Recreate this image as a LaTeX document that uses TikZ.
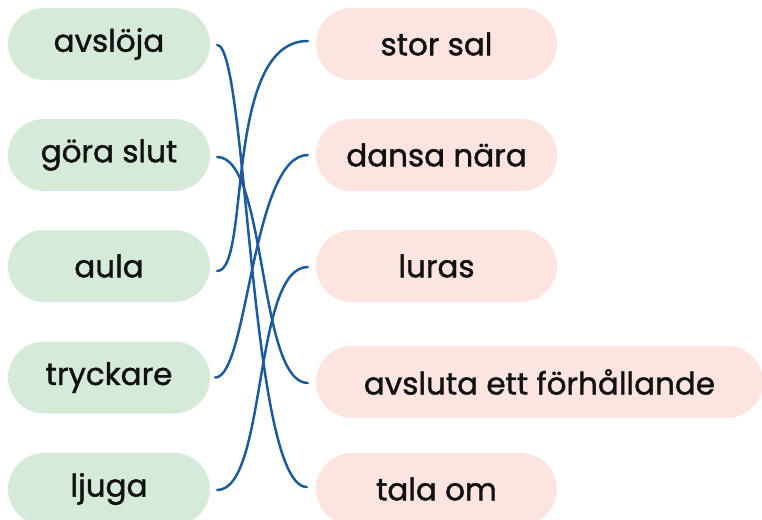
\documentclass[tikz,border=0pt]{standalone}
\usepackage{fontspec}
\newfontfamily\pillfont{Poppins}[FakeBold=1.3]
\definecolor{pillgreen}{HTML}{D5EAD8}
\definecolor{pillpink}{HTML}{FCE4E0}
\definecolor{linkblue}{HTML}{1D5C9C}
\definecolor{txt}{HTML}{111111}
\tikzset{
  pill/.style={rounded corners=35.9pt, minimum height=72pt, inner sep=0pt,
    text=txt, font=\pillfont\fontsize{31}{34}\selectfont},
  leftpill/.style={pill, fill=pillgreen, minimum width=202pt},
  rightpill/.style={pill, fill=pillpink, minimum width=241pt},
  link/.style={draw=linkblue, line width=2.5pt, line cap=round}
}
\begin{document}
\begin{tikzpicture}[x=1pt,y=-1pt]
\useasboundingbox (0,0) rectangle (762,519);
\node[leftpill] (L1) at (109,44) {avslöja};
\node[leftpill] (L2) at (109,155) {göra slut};
\node[leftpill] (L3) at (109,266) {aula};
\node[leftpill] (L4) at (109,377.5) {tryckare};
\node[leftpill] (L5) at (109,489) {ljuga};
\node[rightpill] (R1) at (436.5,44) {stor sal};
\node[rightpill] (R2) at (436.5,155) {dansa nära};
\node[rightpill] (R3) at (436.5,266) {luras};
\node[rightpill, minimum width=447pt] (R4) at (539.5,382) {avsluta ett förhållande};
\node[rightpill] (R5) at (436.5,489) {tala om};
\coordinate (a1) at ([shift={(7pt,-1pt)}]L1.east);
\coordinate (a2) at ([shift={(7pt,-2pt)}]L2.east);
\coordinate (a3) at ([shift={(7pt,-5pt)}]L3.east);
\coordinate (a4) at ([shift={(5pt,0pt)}]L4.east);
\coordinate (a5) at ([shift={(7pt,-1pt)}]L5.east);
\coordinate (b1) at ([shift={(-8pt,3pt)}]R1.west);
\coordinate (b2) at ([shift={(-8pt,0pt)}]R2.west);
\coordinate (b3) at ([shift={(-8pt,-1pt)}]R3.west);
\coordinate (b4) at ([shift={(-8pt,-1pt)}]R4.west);
\coordinate (b5) at ([shift={(-9pt,2pt)}]R5.west);
\draw[link] (a1) .. controls +(30,0) and +(-57,0) .. (b5);
\draw[link] (a2) .. controls +(50,0) and +(-50,0) .. (b4);
\draw[link] (a3) .. controls +(34,0) and +(-85,0) .. (b1);
\draw[link] (a4) .. controls +(33,0) and +(-56,0) .. (b2);
\draw[link] (a5) .. controls +(50,0) and +(-55,0) .. (b3);
\end{tikzpicture}
\end{document}
